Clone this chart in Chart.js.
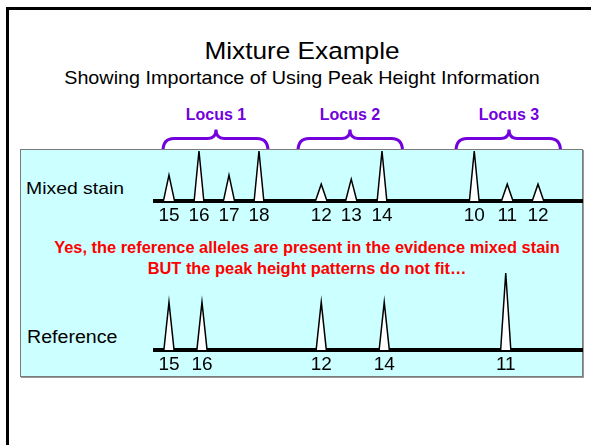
<!DOCTYPE html>
<html>
<head>
<meta charset="utf-8">
<script src="https://cdn.jsdelivr.net/npm/chart.js@4/dist/chart.umd.min.js"></script>
<style>
  body { margin: 0; width: 591px; height: 445px; position: relative; overflow: hidden; background: #fff;
         font-family: Arial, "Liberation Sans", sans-serif; color: #000; }
  .abs { position: absolute; white-space: nowrap; line-height: 1; }
  .center { transform-origin: 50% 50%; }
  .frame-left { left: 6px; top: 7px; width: 3px; height: 438px; background: #000; }
  .frame-top { left: 6px; top: 7px; width: 585px; height: 3px; background: #000; }
  .panel { left: 20px; top: 149px; width: 563px; height: 228px; box-sizing: border-box;
           background: #ccffff; border: 1px solid #7a7a7a; box-shadow: 1px 1px 0 #999; }
  .locus { font-weight: bold; font-size: 16px; color: #7300dd; }
  .red { font-weight: bold; font-size: 16.4px; color: #ff0000; }
  canvas { position: absolute; }
</style>
</head>
<body>
<div class="abs frame-left"></div>
<div class="abs frame-top"></div>

<div class="abs center" style="left:302px; top:39.2px; font-size:24.5px; transform:translateX(-50%) scaleX(1.07);">Mixture Example</div>
<div class="abs center" style="left:302px; top:68px; font-size:19px; transform:translateX(-50%) scaleX(1.04);">Showing Importance of Using Peak Height Information</div>

<div id="loci"></div>
<svg class="abs" style="left:0; top:0;" width="591" height="445" id="braces"></svg>

<div class="abs panel"></div>

<div class="abs" style="left:26px; top:179.6px; font-size:17px; transform-origin:0 50%; transform:scaleX(1.14);">Mixed stain</div>
<div class="abs" style="left:26.5px; top:328.5px; font-size:17.5px; transform-origin:0 50%; transform:scaleX(1.12);">Reference</div>

<div class="abs red center" style="left:307px; top:238.8px; transform:translateX(-50%);">Yes, the reference alleles are present in the evidence mixed stain</div>
<div class="abs red center" style="left:307px; top:259.8px; transform:translateX(-50%);">BUT the peak height patterns do not fit…</div>

<canvas id="mixed" width="430" height="89" style="left:153px; top:141px;"></canvas>
<canvas id="reference" width="430" height="119" style="left:153px; top:260px;"></canvas>

<script>
// Allele peaks (x = fragment size, y = peak height)
const mixedAlleles = ['15', '16', '17', '18', '12', '13', '14', '10', '11', '12'];
const mixedSizes   = [100, 104, 108, 112, 120.3, 124.3, 128.4, 140.7, 145.1, 149.2];
const mixedHeights = [52, 100, 52, 100, 34, 44, 100, 100, 34, 34];

const refAlleles = ['15', '16', '12', '14', '11'];
const refSizes   = [100, 104.4, 120.3, 128.7, 144.9];
const refHeights = [96, 96, 96, 96, 154];

const loci = ['Locus 1', 'Locus 2', 'Locus 3'];

// layout / style
const X_MIN = 97.87, X_MAX = 155.2;
const FONT = 'Arial, "Liberation Sans", sans-serif';
const PURPLE = '#7300dd';
const lociPos = [216, 350, 509];
const braceSpan = [[163, 268], [298, 402.5], [456, 560.5]];

// locus labels + braces
const lociBox = document.getElementById('loci');
loci.forEach((name, i) => {
    const d = document.createElement('div');
    d.className = 'abs locus center';
    d.style.left = lociPos[i] + 'px';
    d.style.top = '107.2px';
    d.style.transform = 'translateX(-50%)';
    d.textContent = name;
    lociBox.appendChild(d);
});

const svg = document.getElementById('braces');
braceSpan.forEach(([a, b], i) => {
    const t = lociPos[i];
    const yEnd = 151, yMid = 138.5, yTip = 129.5;
    const p = document.createElementNS('http://www.w3.org/2000/svg', 'path');
    p.setAttribute('d',
        `M${a},${yEnd} Q${a},${yMid} ${a + 11},${yMid} L${t - 8},${yMid} Q${t},${yMid} ${t},${yTip} ` +
        `Q${t},${yMid} ${t + 8},${yMid} L${b - 11},${yMid} Q${b},${yMid} ${b},${yEnd}`);
    p.setAttribute('fill', 'none');
    p.setAttribute('stroke', PURPLE);
    p.setAttribute('stroke-width', '3');
    p.setAttribute('stroke-linecap', 'round');
    svg.appendChild(p);
});

// build triangle peaks for a line dataset
function peakPoints(sizes, heights, halfWidth) {
    const pts = [];
    sizes.forEach((s, i) => {
        const hw = halfWidth(heights[i]);
        pts.push({x: s - hw, y: 0}, {x: s, y: heights[i]}, {x: s + hw, y: 0}, {x: s + hw, y: null});
    });
    return pts;
}

function makeChart(id, sizes, heights, alleles, yMax, halfWidth) {
    return new Chart(document.getElementById(id), {
        type: 'line',
        data: {
            datasets: [{
                data: peakPoints(sizes, heights, halfWidth),
                borderColor: '#000',
                borderWidth: 1.5,
                backgroundColor: '#fff',
                fill: 'origin',
                tension: 0,
                pointRadius: 0,
                spanGaps: false
            }]
        },
        options: {
            responsive: false,
            animation: false,
            devicePixelRatio: 1,
            layout: { padding: 0 },
            plugins: { legend: { display: false }, tooltip: { enabled: false } },
            scales: {
                x: {
                    type: 'linear',
                    min: X_MIN,
                    max: X_MAX,
                    z: 1,
                    grid: { display: false, drawTicks: false },
                    border: { display: true, color: '#000', width: 4 },
                    afterBuildTicks: axis => { axis.ticks = sizes.map(v => ({ value: v })); },
                    ticks: {
                        autoSkip: false,
                        maxRotation: 0,
                        padding: 3,
                        color: '#000',
                        font: { family: FONT, size: 19 },
                        callback: (v, i) => alleles[i]
                    }
                },
                y: { display: false, min: 0, max: yMax }
            }
        }
    });
}

makeChart('mixed', mixedSizes, mixedHeights, mixedAlleles, 120, h => 0.85 - 0.002 * h);
makeChart('reference', refSizes, refHeights, refAlleles, 180, () => 0.68);
</script>
</body>
</html>
